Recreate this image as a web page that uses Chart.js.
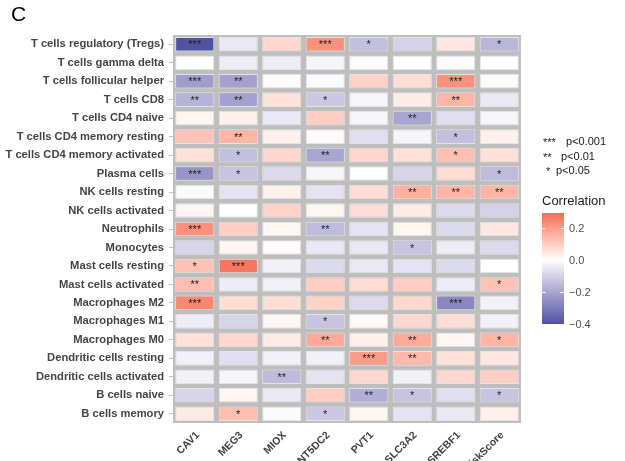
<!DOCTYPE html>
<html>
<head>
<meta charset="utf-8">
<script src="https://cdn.jsdelivr.net/npm/chart.js@4/dist/chart.umd.min.js"></script>
<style>
  html, body { margin: 0; padding: 0; background: #ffffff; }
  #wrap { width: 625px; height: 461px; position: relative; }
</style>
</head>
<body>
<div id="wrap"><canvas id="heat" width="625" height="461"></canvas></div>
<script>
// Genes / score on the x axis
const genes = ['CAV1', 'MEG3', 'MIOX', 'NT5DC2', 'PVT1', 'SLC3A2', 'SREBF1', 'RiskScore'];

// Immune cell types on the y axis (top to bottom)
const cellTypes = [
  'T cells regulatory (Tregs)', 'T cells gamma delta', 'T cells follicular helper', 'T cells CD8',
  'T cells CD4 naive', 'T cells CD4 memory resting', 'T cells CD4 memory activated', 'Plasma cells',
  'NK cells resting', 'NK cells activated', 'Neutrophils', 'Monocytes', 'Mast cells resting',
  'Mast cells activated', 'Macrophages M2', 'Macrophages M1', 'Macrophages M0',
  'Dendritic cells resting', 'Dendritic cells activated', 'B cells naive', 'B cells memory'
];

// Spearman correlation, one row per cell type, columns follow `genes`
const corr = [
  [-0.40, -0.05,  0.08,  0.22, -0.14, -0.10,  0.05, -0.16],
  [ 0.00, -0.04, -0.04, -0.02, -0.01,  0.00, -0.01,  0.00],
  [-0.22, -0.21,  0.01, -0.01,  0.09,  0.07,  0.22,  0.01],
  [-0.17, -0.21,  0.06, -0.12, -0.02,  0.04,  0.15, -0.05],
  [ 0.02,  0.03, -0.05,  0.10, -0.02, -0.20, -0.07, -0.02],
  [ 0.12,  0.15,  0.03,  0.01, -0.07, -0.02, -0.14,  0.03],
  [ 0.06, -0.14,  0.08, -0.20,  0.08,  0.06,  0.13,  0.06],
  [-0.24, -0.13, -0.08, -0.02, -0.005,-0.09,  0.07, -0.15],
  [-0.01, -0.06,  0.03, -0.06,  0.07,  0.16,  0.15,  0.15],
  [ 0.02,  0.00,  0.09,  0.02,  0.07,  0.04, -0.08, -0.10],
  [ 0.22,  0.10,  0.02, -0.15, -0.06,  0.02, -0.08,  0.05],
  [-0.09,  0.02,  0.01, -0.05, -0.05, -0.13, -0.04, -0.08],
  [ 0.12,  0.27, -0.03, -0.08, -0.05, -0.06, -0.08,  0.00],
  [ 0.13, -0.04, -0.03,  0.10,  0.07,  0.10, -0.04,  0.12],
  [ 0.24,  0.07,  0.07,  0.09, -0.08,  0.08, -0.27, -0.03],
  [-0.04, -0.09,  0.02, -0.13,  0.01,  0.08,  0.07, -0.03],
  [ 0.06,  0.08,  0.04,  0.17,  0.03,  0.17,  0.02,  0.15],
  [-0.03, -0.07, -0.03, -0.03,  0.20,  0.14,  0.06,  0.05],
  [-0.03, -0.02, -0.15, -0.06,  0.08, -0.03,  0.08,  0.10],
  [-0.09,  0.02, -0.05,  0.10, -0.18, -0.13, -0.07, -0.13],
  [ 0.04,  0.13, -0.01, -0.12,  0.02, -0.06, -0.05,  0.03]
];

// Significance marks, same layout as `corr`
const signif = [
  ['***', '',    '', '***', '*',  '',   '',    '*' ],
  ['',    '',    '', '',    '',   '',   '',    ''  ],
  ['***', '**',  '', '',    '',   '',   '***', ''  ],
  ['**',  '**',  '', '*',   '',   '',   '**',  ''  ],
  ['',    '',    '', '',    '',   '**', '',    ''  ],
  ['',    '**',  '', '',    '',   '',   '*',   ''  ],
  ['',    '*',   '', '**',  '',   '',   '*',   ''  ],
  ['***', '*',   '', '',    '',   '',   '',    '*' ],
  ['',    '',    '', '',    '',   '**', '**',  '**'],
  ['',    '',    '', '',    '',   '',   '',    ''  ],
  ['***', '',    '', '**',  '',   '',   '',    ''  ],
  ['',    '',    '', '',    '',   '*',  '',    ''  ],
  ['*',   '***', '', '',    '',   '',   '',    ''  ],
  ['**',  '',    '', '',    '',   '',   '',    '*' ],
  ['***', '',    '', '',    '',   '',   '***', ''  ],
  ['',    '',    '', '*',   '',   '',   '',    ''  ],
  ['',    '',    '', '**',  '',   '**', '',    '*' ],
  ['',    '',    '', '',    '***','**', '',    ''  ],
  ['',    '',    '**','',   '',   '',   '',    ''  ],
  ['',    '',    '', '',    '**', '*',  '',    '*' ],
  ['',    '*',   '', '*',   '',   '',   '',    ''  ]
];

// Colour bar ticks and limits
const legendTicks = [0.2, 0.0, -0.2, -0.4];
const legendTickLabels = ['0.2', '0.0', '\u22120.2', '\u22120.4'];
const corrLimits = [-0.40, 0.29];
const pLegend = [['***', 'p<0.001'], ['**', 'p<0.01'], ['*', 'p<0.05']];

// ---- diverging colour scale interpolated in CIE Lab ----
const LOW_COLOR = '#4F53A3', MID_COLOR = '#FFFFFF', HIGH_COLOR = '#F26C56';
const hexToRgb = h => [1, 3, 5].map(i => parseInt(h.slice(i, i + 2), 16));
function rgbToLab([r, g, b]) {
  const lin = c => { c /= 255; return c <= 0.04045 ? c / 12.92 : Math.pow((c + 0.055) / 1.055, 2.4); };
  const R = lin(r), G = lin(g), B = lin(b);
  const X = (0.4124 * R + 0.3576 * G + 0.1805 * B) / 0.95047;
  const Y = (0.2126 * R + 0.7152 * G + 0.0722 * B);
  const Z = (0.0193 * R + 0.1192 * G + 0.9505 * B) / 1.08883;
  const f = t => t > 0.008856 ? Math.cbrt(t) : 7.787 * t + 16 / 116;
  const fx = f(X), fy = f(Y), fz = f(Z);
  return [116 * fy - 16, 500 * (fx - fy), 200 * (fy - fz)];
}
function labToRgb([L, a, b]) {
  const fy = (L + 16) / 116, fx = fy + a / 500, fz = fy - b / 200;
  const fi = t => t * t * t > 0.008856 ? t * t * t : (t - 16 / 116) / 7.787;
  const X = fi(fx) * 0.95047, Y = fi(fy), Z = fi(fz) * 1.08883;
  const R = 3.2406 * X - 1.5372 * Y - 0.4986 * Z;
  const G = -0.9689 * X + 1.8758 * Y + 0.0415 * Z;
  const B = 0.0557 * X - 0.2040 * Y + 1.0570 * Z;
  const g = c => { c = c <= 0.0031308 ? 12.92 * c : 1.055 * Math.pow(c, 1 / 2.4) - 0.055;
                   return Math.round(Math.min(1, Math.max(0, c)) * 255); };
  return [g(R), g(G), g(B)];
}
const lowLab = rgbToLab(hexToRgb(LOW_COLOR));
const midLab = rgbToLab(hexToRgb(MID_COLOR));
const highLab = rgbToLab(hexToRgb(HIGH_COLOR));
function fillFor(v) {
  const target = v < 0 ? lowLab : highLab;
  const t = Math.min(1, Math.abs(v) / (v < 0 ? -corrLimits[0] : corrLimits[1]));
  const lab = midLab.map((m, i) => m + (target[i] - m) * t);
  const [r, g, b] = labToRgb(lab);
  return `rgb(${r},${g},${b})`;
}

// ---- one floating-bar dataset per cell type (row) ----
const datasets = cellTypes.map((name, r) => ({
  label: name,
  data: genes.map(() => [r + 0.105, r + 0.895]),
  backgroundColor: corr[r].map(fillFor),
  borderColor: 'rgba(232,232,232,0.9)',
  borderWidth: 1,
  borderSkipped: false,
  grouped: false,
  barPercentage: 0.9,
  categoryPercentage: 1.0
}));

const FONT = '"Liberation Sans", Arial, Helvetica, sans-serif';

const panelPlugin = {
  id: 'panel',
  beforeDatasetsDraw(chart) {
    const { ctx, chartArea: a } = chart;
    ctx.save();
    ctx.fillStyle = '#BEBEBE';
    ctx.fillRect(a.left, a.top, a.right - a.left, a.bottom - a.top);
    ctx.restore();
  },
  afterDatasetsDraw(chart) {
    const { ctx, scales: { x, y } } = chart;
    ctx.save();
    ctx.fillStyle = '#1E1E1E';
    ctx.font = `11px ${FONT}`;
    ctx.textAlign = 'center';
    ctx.textBaseline = 'middle';
    signif.forEach((row, r) => row.forEach((s, c) => {
      if (s) ctx.fillText(s, x.getPixelForValue(c), y.getPixelForValue(r + 0.5) + 1);
    }));
    ctx.restore();
  },
  afterDraw(chart) {
    const { ctx, scales: { x } } = chart;
    ctx.save();
    // panel tag
    ctx.fillStyle = '#000000';
    ctx.font = `21px ${FONT}`;
    ctx.textAlign = 'left';
    ctx.textBaseline = 'middle';
    ctx.fillText('C', 11, 15);

    // rotated gene labels, right end at each column's tick
    ctx.fillStyle = '#404040';
    ctx.font = `bold 10.5px ${FONT}`;
    ctx.textAlign = 'right';
    ctx.textBaseline = 'middle';
    genes.forEach((g, i) => {
      ctx.save();
      ctx.translate(x.getPixelForValue(i) + 3, 433.5);
      ctx.rotate(-Math.PI / 4);
      ctx.fillText(g, 0, 0);
      ctx.restore();
    });

    // p-value key
    ctx.fillStyle = '#1A1A1A';
    ctx.textAlign = 'left';
    ctx.font = `11px ${FONT}`;
    const keyStarX = [543, 543, 546], keyTextX = [566, 561, 556], keyY = [142, 156.5, 171];
    pLegend.forEach(([s, t], i) => {
      ctx.fillText(s, keyStarX[i], keyY[i] + 1);
      ctx.fillText(t, keyTextX[i], keyY[i]);
    });

    // colour bar
    ctx.font = `13px ${FONT}`;
    ctx.fillText('Correlation', 542, 201);
    const barX = 542, barW = 22;
    const valToY = v => 260 - v * 160;
    const top = valToY(corrLimits[1]), bot = valToY(corrLimits[0]);
    for (let yy = Math.floor(top); yy < Math.ceil(bot); yy++) {
      const v = corrLimits[1] - (yy + 0.5 - top) / (bot - top) * (corrLimits[1] - corrLimits[0]);
      ctx.fillStyle = fillFor(v);
      ctx.fillRect(barX, yy, barW, 1);
    }
    ctx.strokeStyle = 'rgba(255,255,255,0.9)';
    ctx.lineWidth = 1;
    ctx.fillStyle = '#4D4D4D';
    ctx.font = `11px ${FONT}`;
    legendTicks.forEach((v, i) => {
      const ty = Math.round(valToY(v)) + 0.5;
      ctx.beginPath();
      ctx.moveTo(barX, ty); ctx.lineTo(barX + 4, ty);
      ctx.moveTo(barX + barW - 4, ty); ctx.lineTo(barX + barW, ty);
      ctx.stroke();
      ctx.fillText(legendTickLabels[i], 569, ty);
    });
    ctx.restore();
  }
};

new Chart(document.getElementById('heat'), {
  type: 'bar',
  data: { labels: genes, datasets },
  options: {
    responsive: false,
    animation: false,
    events: [],
    layout: { padding: { top: 35, right: 104, bottom: 0, left: 0 } },
    plugins: { legend: { display: false }, tooltip: { enabled: false } },
    scales: {
      x: {
        type: 'category',
        offset: true,
        grid: { display: false },
        border: { display: false },
        ticks: { display: false },
        afterFit: s => { s.height = 38; }
      },
      y: {
        type: 'linear',
        min: 0,
        max: cellTypes.length,
        reverse: true,
        afterBuildTicks: s => { s.ticks = cellTypes.map((_, i) => ({ value: i + 0.5 })); },
        afterFit: s => { s.width = 173; },
        border: { display: false },
        grid: { drawOnChartArea: false, drawTicks: true, tickLength: 4, color: '#C4C4C4' },
        ticks: {
          autoSkip: false,
          padding: 5,
          color: '#444444',
          font: { family: FONT, size: 11.2, weight: 'bold' },
          callback: v => cellTypes[Math.round(v - 0.5)]
        }
      }
    }
  },
  plugins: [panelPlugin]
});
</script>
</body>
</html>
